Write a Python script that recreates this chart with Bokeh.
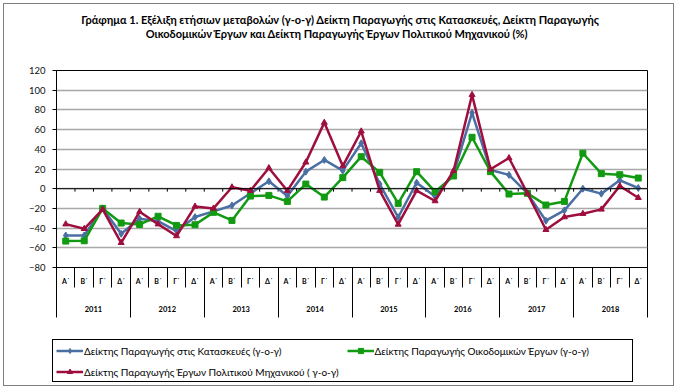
from bokeh.plotting import figure
from bokeh.layouts import column
from bokeh.models import (Range1d, LinearAxis, FixedTicker, Span, Legend, LegendItem,
                          Label, Grid, ColumnDataSource)
from bokeh.embed import file_html
from bokeh.resources import INLINE

# ---------------- data ----------------
years = ["2011", "2012", "2013", "2014", "2015", "2016", "2017", "2018"]
quarters = ["Α΄", "Β΄", "Γ΄", "Δ΄"]

construction = [-47.5, -47.5, -20.0, -45.8,
                -30.5, -33.0, -43.0, -28.8,
                -23.0, -17.0, -4.7, 7.5,
                -7.5, 17.3, 29.2, 18.3,
                46.1, 4.7, -29.0, 6.1,
                -8.0, 15.0, 77.0, 19.0,
                14.0, -4.7, -32.5, -22.0,
                0.0, -5.0, 8.5, 0.7]
buildings = [-53.2, -52.9, -20.0, -34.9,
             -36.3, -28.0, -37.3, -36.6,
             -24.0, -32.2, -7.5, -6.8,
             -12.9, 4.7, -8.5, 11.2,
             32.5, 16.6, -14.9, 17.3,
             -3.0, 12.9, 52.2, 17.3,
             -5.4, -4.7, -16.6, -12.9,
             36.0, 15.3, 14.2, 10.8]
civil = [-36.0, -40.7, -21.0, -54.9,
         -23.4, -36.0, -48.0, -18.0,
         -20.0, 1.5, -2.0, 21.0,
         -2.0, 26.8, 67.1, 23.0,
         58.3, -2.0, -36.3, -2.0,
         -12.5, 18.3, 95.3, 19.7,
         31.2, -4.7, -41.7, -28.8,
         -25.4, -21.0, 2.7, -9.2]

series_names = ["Δείκτης Παραγωγής στις Κατασκευές (γ-ο-γ)",
                "Δείκτης Παραγωγής Οικοδομικών Έργων (γ-ο-γ)",
                "Δείκτης Παραγωγής Έργων Πολιτικού Μηχανικού ( γ-ο-γ)"]
y_ticks = [-80, -60, -40, -20, 0, 20, 40, 60, 80, 100, 120]
title_lines = ["Γράφημα 1. Εξέλιξη ετήσιων μεταβολών (γ-ο-γ) Δείκτη Παραγωγής στις Κατασκευές, Δείκτη Παραγωγής",
               "Οικοδομικών Έργων και  Δείκτη Παραγωγής  Έργων Πολιτικού Μηχανικού (%)"]

# ---------------- derived positions ----------------
n = len(years) * len(quarters)
centers = [i + 0.5 for i in range(n)]
bounds = [float(i) for i in range(n + 1)]
year_centers = [k * len(quarters) + len(quarters) / 2 for k in range(len(years))]
year_bounds = [float(k * len(quarters)) for k in range(len(years) + 1)]
q_labels = {c: quarters[i % len(quarters)] for i, c in enumerate(centers)}
y_labels = {c: years[k] for k, c in enumerate(year_centers)}

FONT = "Lato"
W = 669
LEFT, RIGHT = 52, 26
colors = ["#4a6fa3", "#139a13", "#9e0f3e"]
markers = ["diamond", "square", "triangle"]
sizes = [7, 6, 6]
cols = ["a", "b", "c"]
src = ColumnDataSource(dict(x=centers, a=construction, b=buildings, c=civil))


def bare(height, top=0, bottom=0):
    # frame aligned with the main chart's frame; x data units == canvas pixels
    f = figure(width=W, height=height, output_backend="svg", toolbar_location=None,
               x_axis_location=None, y_axis_location=None,
               x_range=Range1d(LEFT, W - RIGHT), y_range=Range1d(height, 0),
               min_border=0, min_border_left=LEFT, min_border_right=RIGHT,
               min_border_top=top, min_border_bottom=bottom,
               background_fill_color="white", border_fill_color="white")
    f.grid.visible = False
    f.outline_line_color = None
    return f


# ---------------- title ----------------
TH = 42
tfig = bare(TH)
for t, yy in zip(title_lines, [15, 28.5]):
    tfig.add_layout(Label(x=336, y=yy, text=t, text_align="center", text_baseline="middle",
                          text_font=FONT, text_font_size="11px", text_font_style="bold",
                          text_color="black"))

# ---------------- main chart ----------------
p = figure(width=W, height=291, output_backend="svg", toolbar_location=None,
           x_range=Range1d(0, n), y_range=Range1d(-80, 120),
           x_axis_location=None, y_axis_location=None,
           min_border_left=LEFT, min_border_right=RIGHT, min_border_top=24, min_border_bottom=70,
           background_fill_color="white", border_fill_color="white")
p.grid.visible = False
p.outline_line_color = "black"
p.outline_line_width = 1

p.add_layout(Grid(dimension=1, ticker=FixedTicker(ticks=y_ticks),
                  grid_line_color="#a8a8a8", grid_line_width=1.5))

yaxis = LinearAxis(ticker=FixedTicker(ticks=y_ticks),
                   axis_line_color="black", axis_line_width=1,
                   major_tick_out=4, major_tick_in=0, minor_tick_out=0, minor_tick_in=0,
                   major_tick_line_color="black",
                   major_label_standoff=7,
                   major_label_text_font=FONT, major_label_text_font_size="9.5px",
                   major_label_text_color="#111111")
p.add_layout(yaxis, "left")

qaxis = LinearAxis(ticker=FixedTicker(ticks=centers, minor_ticks=bounds),
                   major_label_overrides=q_labels,
                   axis_line_color="black",
                   major_tick_out=0, major_tick_in=0,
                   minor_tick_out=20, minor_tick_in=0,
                   minor_tick_line_color="black", minor_tick_line_width=1,
                   major_label_standoff=-11,
                   major_label_text_font=FONT, major_label_text_font_size="7px",
                   major_label_text_font_style="bold", major_label_text_color="black")
p.add_layout(qaxis, "below")

yraxis = LinearAxis(ticker=FixedTicker(ticks=year_centers, minor_ticks=year_bounds),
                    major_label_overrides=y_labels,
                    axis_line_color=None,
                    major_tick_out=0, major_tick_in=0,
                    minor_tick_out=30, minor_tick_in=19,
                    minor_tick_line_color="black", minor_tick_line_width=1,
                    major_label_standoff=-12,
                    major_label_text_font=FONT, major_label_text_font_size="7.5px",
                    major_label_text_font_style="bold", major_label_text_color="black")
p.add_layout(yraxis, "below")

p.add_layout(Span(location=0, dimension="width", line_color="black", line_width=1))
p.segment(x0=bounds[1:-1], y0=[0] * (n - 1), x1=bounds[1:-1], y1=[-3] * (n - 1),
          line_color="black", line_width=1)

for col, color, mk, sz in zip(cols, colors, markers, sizes):
    p.line("x", col, source=src, line_color=color, line_width=2.5)
    p.scatter("x", col, source=src, marker=mk, size=sz, fill_color=color, line_color=color)

# ---------------- legend (series drawn out of view, only legend visible) ----------------
LH = 48
lfig = bare(LH, top=2, bottom=4)
items = []
for name, col, color, mk, sz in zip(series_names, cols, colors, markers, sizes):
    ln = lfig.line("x", col, source=src, line_color=color, line_width=2.5)
    sc = lfig.scatter("x", col, source=src, marker=mk, size=sz, fill_color=color, line_color=color)
    items.append(LegendItem(label=name, renderers=[ln, sc]))
legend = Legend(items=items, orientation="horizontal", ncols=2,
                location=(0, 3),
                border_line_color=None,
                background_fill_alpha=0,
                label_text_font=FONT, label_text_font_size="10px", label_text_color="black",
                glyph_width=27, glyph_height=13, label_standoff=1,
                padding=4, spacing=8, margin=0, label_height=13)
lfig.add_layout(legend)

layout = column(tfig, p, lfig, spacing=0)
layout.styles = {"margin-left": "4px", "margin-top": "4px", "outline": "1px solid #7f7f7f"}

html = file_html(layout, INLINE)
# frame drawn round the legend (page pixels)
legend_box_css = ("position:absolute; left:52px; top:339px; width:581px; height:43px; "
                  "border:1px solid #000; box-sizing:border-box; pointer-events:none;")
html = html.replace("</body>", '<div style="%s"></div>\n</body>' % legend_box_css)
open("out.html", "w").write(html)
